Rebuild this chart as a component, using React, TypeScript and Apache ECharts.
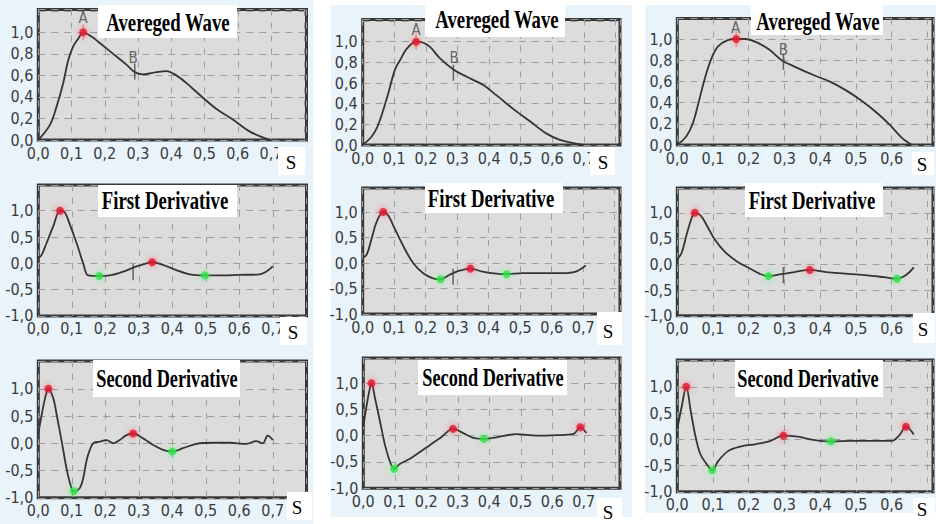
import React, { useEffect, useRef } from 'react';
import * as echarts from 'echarts';

// ---------- data (x in seconds, normalised amplitude) ----------
const xTicks = ['0,0', '0,1', '0,2', '0,3', '0,4', '0,5', '0,6', '0,7'];

const wave1: number[][] = [[0,0],[0.035,0.14],[0.055,0.31],[0.075,0.53],[0.09,0.74],[0.105,0.87],[0.12,0.94],[0.135,1.0],[0.16,0.96],[0.185,0.9],[0.225,0.8],[0.265,0.7],[0.29,0.63],[0.315,0.61],[0.355,0.63],[0.385,0.64],[0.415,0.6],[0.445,0.53],[0.485,0.42],[0.535,0.29],[0.585,0.19],[0.635,0.08],[0.697,0]];
const wave2: number[][] = [[0,0],[0.028,0.08],[0.044,0.16],[0.06,0.29],[0.081,0.5],[0.102,0.73],[0.118,0.82],[0.139,0.93],[0.169,1.0],[0.192,0.99],[0.213,0.95],[0.244,0.84],[0.287,0.73],[0.329,0.66],[0.381,0.58],[0.424,0.48],[0.476,0.35],[0.529,0.23],[0.582,0.11],[0.624,0.05],[0.698,0]];
const wave3: number[][] = [[0,0],[0.025,0.08],[0.043,0.2],[0.061,0.42],[0.078,0.64],[0.096,0.82],[0.114,0.93],[0.141,0.99],[0.165,1.0],[0.19,1.0],[0.221,0.97],[0.257,0.9],[0.292,0.8],[0.328,0.74],[0.381,0.66],[0.426,0.6],[0.47,0.52],[0.515,0.42],[0.56,0.3],[0.595,0.19],[0.631,0.06],[0.658,0]];

const first1: number[][] = [[0,0.1],[0.01,0.16],[0.025,0.39],[0.045,0.71],[0.065,1.0],[0.079,0.97],[0.094,0.74],[0.114,0.39],[0.134,0],[0.149,-0.23],[0.182,-0.24],[0.213,-0.23],[0.253,-0.16],[0.293,-0.06],[0.323,0],[0.34,0.02],[0.372,-0.03],[0.412,-0.13],[0.452,-0.21],[0.497,-0.23],[0.541,-0.23],[0.601,-0.22],[0.66,-0.21],[0.68,-0.16],[0.7,-0.06]];
const first2: number[][] = [[0,0.1],[0.013,0.17],[0.028,0.47],[0.044,0.8],[0.065,1.0],[0.081,0.93],[0.102,0.67],[0.129,0.33],[0.16,0],[0.192,-0.2],[0.223,-0.3],[0.247,-0.32],[0.276,-0.23],[0.308,-0.15],[0.342,-0.11],[0.381,-0.17],[0.424,-0.21],[0.457,-0.22],[0.508,-0.2],[0.571,-0.2],[0.634,-0.2],[0.676,-0.17],[0.708,-0.05]];
const first3: number[][] = [[0,0.1],[0.012,0.22],[0.025,0.55],[0.038,0.85],[0.049,1.0],[0.065,0.95],[0.083,0.75],[0.105,0.48],[0.132,0.25],[0.168,0.05],[0.203,-0.08],[0.23,-0.18],[0.255,-0.23],[0.292,-0.19],[0.328,-0.15],[0.371,-0.11],[0.417,-0.15],[0.471,-0.18],[0.524,-0.21],[0.578,-0.25],[0.615,-0.28],[0.64,-0.21],[0.662,-0.06]];

const second1: number[][] = [[0,0.18],[0.01,0.52],[0.02,0.82],[0.03,1.0],[0.045,0.82],[0.055,0.52],[0.07,0.03],[0.084,-0.45],[0.096,-0.76],[0.106,-0.88],[0.124,-0.82],[0.134,-0.64],[0.146,-0.27],[0.164,0],[0.184,0.03],[0.204,0.06],[0.224,0],[0.243,0.06],[0.263,0.15],[0.283,0.18],[0.313,0.09],[0.343,-0.03],[0.372,-0.12],[0.4,-0.15],[0.432,-0.09],[0.472,-0.01],[0.521,0.01],[0.571,0.01],[0.621,-0.01],[0.65,0.04],[0.67,0],[0.685,0.14],[0.7,0.06]];
const second2: number[][] = [[0,0.17],[0.011,0.59],[0.019,0.85],[0.026,1.0],[0.037,0.72],[0.053,0.27],[0.069,-0.18],[0.085,-0.5],[0.098,-0.63],[0.116,-0.54],[0.148,-0.44],[0.18,-0.31],[0.211,-0.18],[0.243,-0.05],[0.285,0.13],[0.317,0.05],[0.349,-0.04],[0.383,-0.06],[0.423,-0.03],[0.486,0.03],[0.55,0],[0.613,0.01],[0.666,0.03],[0.689,0.16],[0.708,0.05]];
const second3: number[][] = [[0,0.2],[0.012,0.61],[0.025,1.0],[0.038,0.52],[0.052,0.02],[0.065,-0.29],[0.083,-0.48],[0.098,-0.59],[0.114,-0.42],[0.141,-0.23],[0.176,-0.14],[0.221,-0.09],[0.257,-0.04],[0.297,0.07],[0.337,0.05],[0.381,-0.01],[0.43,-0.04],[0.488,-0.03],[0.56,-0.03],[0.6,-0.03],[0.622,0.08],[0.64,0.24],[0.662,0.09]];

// maxima (red) and minima (green)
const red1 = [[0.135, 1.0]];
const red2 = [[0.169, 1.0]];
const red3 = [[0.165, 1.0]];
const red4 = [[0.065, 1.0], [0.34, 0.02]];
const red5 = [[0.065, 1.0], [0.342, -0.11]];
const red6 = [[0.049, 1.0], [0.371, -0.11]];
const red7 = [[0.03, 1.0], [0.283, 0.18]];
const red8 = [[0.026, 1.0], [0.285, 0.13], [0.689, 0.16]];
const red9 = [[0.025, 1.0], [0.297, 0.07], [0.64, 0.24]];
const green4 = [[0.182, -0.24], [0.497, -0.23]];
const green5 = [[0.247, -0.32], [0.457, -0.22]];
const green6 = [[0.255, -0.23], [0.615, -0.28]];
const green7 = [[0.106, -0.88], [0.4, -0.15]];
const green8 = [[0.098, -0.63], [0.383, -0.06]];
const green9 = [[0.098, -0.59], [0.43, -0.04]];

// A / B point labels and their tick marks
const aLabel1 = [[0.135, 1.13]];
const aLabel2 = [[0.169, 1.11]];
const aLabel3 = [[0.163, 1.10]];
const bLabel1 = [[0.285, 0.76]];
const bLabel2 = [[0.289, 0.84]];
const bLabel3 = [[0.297, 0.9]];
const bTick1 = [[0.29, 0.635]];
const bTick2 = [[0.287, 0.7]];
const bTick3 = [[0.297, 0.785]];
const bTick4 = [[0.283, -0.17]];
const bTick5 = [[0.287, -0.27]];
const bTick6 = [[0.297, -0.21]];

const titles = ['Avereged Wave', 'First Derivative', 'Second Derivative'];

// ---------- layout ----------
const panels = [
  { line: wave1, red: red1, green: [], a: aLabel1, b: bLabel1, tick: bTick1, x0: 38.3, xUnit: 332.5, right: 306.5, y0: 140, yUnit: 107.7, top: 9.5, ymin: 0, step: 0.2 },
  { line: wave2, red: red2, green: [], a: aLabel2, b: bLabel2, tick: bTick2, x0: 362.7, xUnit: 316, right: 620, y0: 145, yUnit: 103.3, top: 19.5, ymin: 0, step: 0.2 },
  { line: wave3, red: red3, green: [], a: aLabel3, b: bLabel3, tick: bTick3, x0: 677.3, xUnit: 374, right: 945, y0: 145, yUnit: 106, top: 18.5, ymin: 0, step: 0.2 },
  { line: first1, red: red4, green: green4, a: [], b: [], tick: bTick4, x0: 38.3, xUnit: 335, right: 306.5, y0: 263.3, yUnit: 52.6, top: 185, ymin: -1, step: 0.5 },
  { line: first2, red: red5, green: green5, a: [], b: [], tick: bTick5, x0: 362.7, xUnit: 315, right: 620, y0: 263, yUnit: 51, top: 188, ymin: -1, step: 0.5 },
  { line: first3, red: red6, green: green6, a: [], b: [], tick: bTick6, x0: 677.3, xUnit: 374, right: 945, y0: 264.3, yUnit: 51.5, top: 188, ymin: -1, step: 0.5 },
  { line: second1, red: red7, green: green7, a: [], b: [], tick: [], x0: 38.3, xUnit: 335, right: 306.5, y0: 443.3, yUnit: 54.5, top: 361, ymin: -1, step: 0.5 },
  { line: second2, red: red8, green: green8, a: [], b: [], tick: [], x0: 363.3, xUnit: 315, right: 620, y0: 435.7, yUnit: 52.5, top: 358, ymin: -1, step: 0.5 },
  { line: second3, red: red9, green: green9, a: [], b: [], tick: [], x0: 677.3, xUnit: 374, right: 945, y0: 439.3, yUnit: 52.5, top: 360, ymin: -1, step: 0.5 },
];

const titleBoxes = [
  { box: [98, 5, 139, 33], c: [168, 23] },
  { box: [425, 0, 140, 37], c: [497, 20] },
  { box: [751, 5, 132, 30], c: [818, 22] },
  { box: [98, 185, 139, 32], c: [165, 201] },
  { box: [425, 183, 138, 30], c: [491, 199] },
  { box: [745, 183, 138, 34], c: [812, 201] },
  { box: [93, 360, 147, 37], c: [167, 379] },
  { box: [418, 360, 149, 35], c: [493, 378] },
  { box: [735, 360, 148, 37], c: [808, 379] },
];

const sBoxes = [
  { box: [278, 147, 27, 28], c: [291, 162] },
  { box: [590, 147, 25, 28], c: [603, 162] },
  { box: [912, 152, 22, 23], c: [922, 164] },
  { box: [280, 317, 27, 28], c: [293, 332] },
  { box: [597, 312, 25, 33], c: [608, 331] },
  { box: [913, 313, 22, 30], c: [923, 329] },
  { box: [287, 492, 25, 28], c: [297, 507] },
  { box: [597, 498, 25, 24], c: [608, 512] },
  { box: [913, 498, 22, 22], c: [922, 509] },
];

const columnsBg = [
  [0, 0, 313, 524],
  [331, 5, 301, 512],
  [645, 5, 291, 508],
];

const labelFont = "'Liberation Sans Narrow', 'DejaVu Sans Condensed', 'Roboto Condensed', 'Liberation Sans', sans-serif";

export default function App() {
  const ref = useRef<HTMLDivElement>(null);

  useEffect(() => {
    if (!ref.current) return;
    const chart = echarts.init(ref.current, undefined, { renderer: 'svg' });

    const grids: any[] = [];
    const xAxes: any[] = [];
    const yAxes: any[] = [];
    const series: any[] = [];

    panels.forEach((p, i) => {
      const width = p.right - p.x0;
      const xmax = width / p.xUnit;
      const ymax = (p.y0 - p.top) / p.yUnit;
      const bottomPx = p.y0 - p.ymin * p.yUnit;
      const step = p.step;
      grids.push({
        left: p.x0,
        top: p.top,
        width,
        height: bottomPx - p.top,
        show: true,
        backgroundColor: '#dcdcdc',
        borderColor: '#383838',
        borderWidth: 3,
      });
      xAxes.push({
        type: 'value',
        gridIndex: i,
        min: 0,
        max: xmax,
        interval: 0.1,
        axisLine: { show: false },
        axisTick: { show: false },
        splitLine: { show: true, lineStyle: { type: [6, 7], color: '#9e9e9e', width: 1 } },
        axisLabel: {
          margin: 5,
          fontSize: 16,
          fontFamily: labelFont,
          color: '#3a3a3a',
          formatter: (v: number) => {
            const k = Math.round(v * 10);
            if (Math.abs(v * 10 - k) > 1e-6 || k > 7) return '';
            if (p.x0 + k * 0.1 * p.xUnit > 920) return '';
            return xTicks[k];
          },
        },
      });
      yAxes.push({
        type: 'value',
        gridIndex: i,
        min: p.ymin,
        max: ymax,
        interval: step,
        axisLine: { show: false },
        axisTick: { show: false },
        splitLine: { show: true, lineStyle: { type: [7, 6], color: '#9e9e9e', width: 1 } },
        axisLabel: {
          margin: 5,
          fontSize: 16,
          fontFamily: labelFont,
          color: '#3a3a3a',
          formatter: (v: number) => {
            const k = Math.round(v / step);
            if (Math.abs(v / step - k) > 1e-6 || v > 1.05) return '';
            const s = (k * step).toFixed(1).replace('.', ',');
            return s === '-0,0' ? '0,0' : s;
          },
        },
      });
      series.push({
        type: 'line',
        xAxisIndex: i,
        yAxisIndex: i,
        data: p.line,
        smooth: 0.35,
        showSymbol: false,
        silent: true,
        lineStyle: { color: '#343434', width: 1.8 },
        z: 3,
      });
      if (p.tick.length) {
        series.push({
          type: 'scatter', xAxisIndex: i, yAxisIndex: i, data: p.tick,
          symbol: 'rect', symbolSize: [1.5, 16],
          itemStyle: { color: '#444' }, z: 4, silent: true,
        });
      }
      if (p.a.length) {
        series.push({
          type: 'scatter', xAxisIndex: i, yAxisIndex: i, data: p.red,
          symbol: 'rect', symbolSize: [1.5, 16],
          itemStyle: { color: '#f08060' }, z: 4, silent: true,
        });
      }
      series.push({
        type: 'scatter', xAxisIndex: i, yAxisIndex: i, data: p.red,
        symbolSize: 8,
        itemStyle: { color: '#e0142c', shadowBlur: 6, shadowColor: 'rgba(255,70,90,0.8)' },
        z: 5, silent: true,
      });
      if (p.green.length) {
        series.push({
          type: 'scatter', xAxisIndex: i, yAxisIndex: i, data: p.green,
          symbolSize: 8,
          itemStyle: { color: '#2fe04a', shadowBlur: 6, shadowColor: 'rgba(80,255,100,0.8)' },
          z: 5, silent: true,
        });
      }
      const txt = (data: number[][], t: string) => ({
        type: 'scatter', xAxisIndex: i, yAxisIndex: i, data,
        symbolSize: 1,
        itemStyle: { color: 'rgba(0,0,0,0)' },
        label: { show: true, position: 'inside', formatter: t, fontSize: 15, fontFamily: labelFont, color: '#454545' },
        z: 6, silent: true,
      });
      if (p.a.length) series.push(txt(p.a, 'A'));
      if (p.b.length) series.push(txt(p.b, 'B'));
    });

    const elements: any[] = [];
    titleBoxes.forEach((t, i) => {
      elements.push({
        type: 'rect', z: 100,
        shape: { x: t.box[0], y: t.box[1], width: t.box[2], height: t.box[3] },
        style: { fill: '#ffffff' },
      });
      elements.push({
        type: 'text', z: 101,
        x: t.c[0], y: t.c[1], scaleX: i >= 6 ? 0.73 : 0.75,
        style: {
          text: titles[Math.floor(i / 3)],
          font: "bold 25px 'Liberation Serif', 'Times New Roman', serif",
          fill: '#000000', align: 'center', verticalAlign: 'middle',
        },
      });
    });
    sBoxes.forEach((s) => {
      elements.push({
        type: 'rect', z: 100,
        shape: { x: s.box[0], y: s.box[1], width: s.box[2], height: s.box[3] },
        style: { fill: '#ffffff' },
      });
      elements.push({
        type: 'text', z: 101,
        x: s.c[0], y: s.c[1],
        style: {
          text: 'S',
          font: "19px 'Liberation Serif', 'Times New Roman', serif",
          fill: '#000000', align: 'center', verticalAlign: 'middle',
        },
      });
    });

    chart.setOption({
      animation: false,
      grid: grids,
      xAxis: xAxes,
      yAxis: yAxes,
      series,
      graphic: { elements },
    });

    return () => chart.dispose();
  }, []);

  return (
    <div style={{ position: 'absolute', left: 0, top: 0, width: 936, height: 524, background: '#ffffff', overflow: 'hidden' }}>
      {columnsBg.map((c, i) => (
        <div key={i} style={{ position: 'absolute', left: c[0], top: c[1], width: c[2], height: c[3], background: '#e9f3fa' }} />
      ))}
      <div ref={ref} style={{ position: 'absolute', left: 0, top: 0, width: 936, height: 524 }} />
    </div>
  );
}
